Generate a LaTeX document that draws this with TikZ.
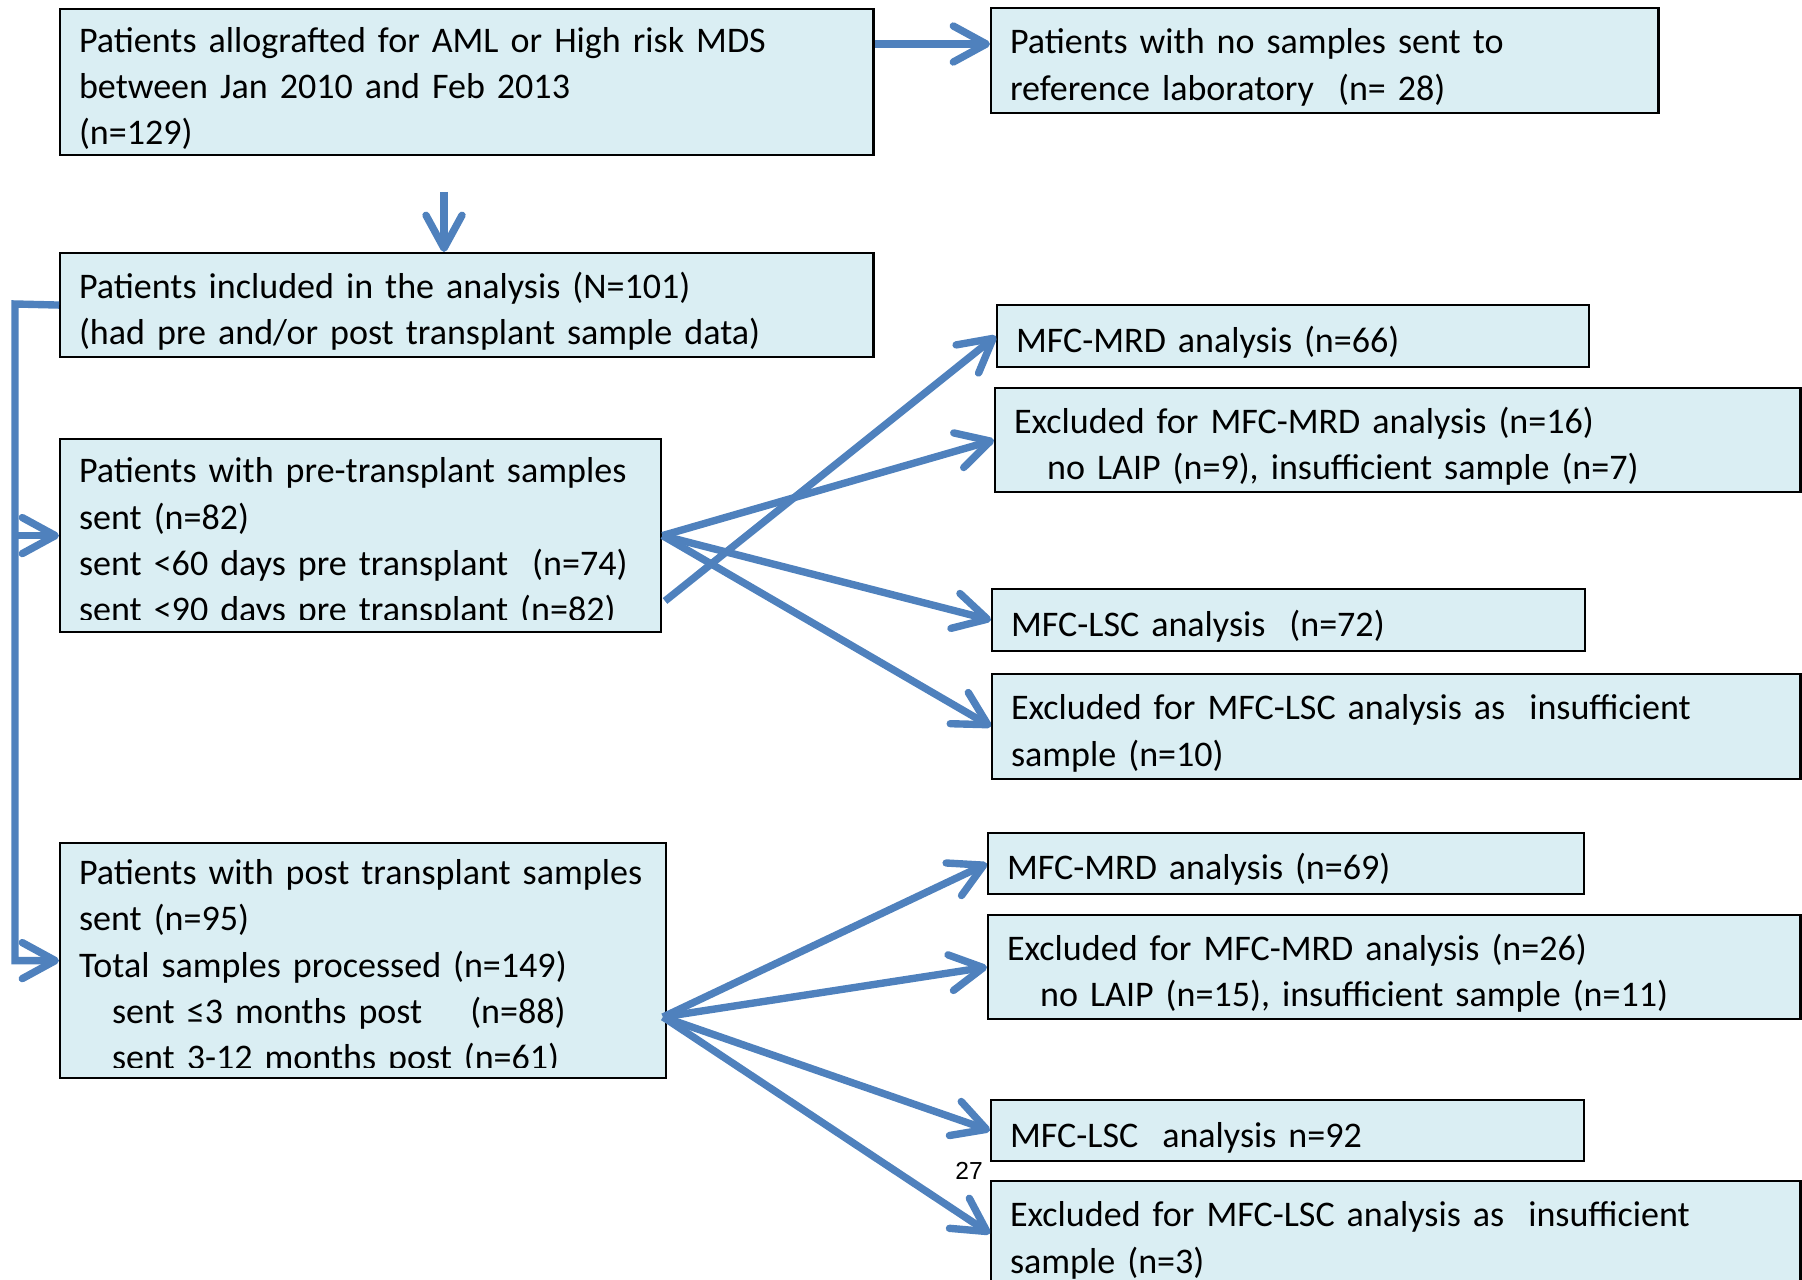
\documentclass[tikz,border=0pt]{standalone}
\usepackage{fontspec}
\setmainfont{Carlito}
\newfontfamily\numfont{Liberation Sans}
\usetikzlibrary{arrows.meta}
\definecolor{boxblue}{HTML}{DAEEF3}
\definecolor{arrowblue}{HTML}{4F81BD}
\newcommand{\bfnt}{\fontsize{10.25pt}{13.1pt}\selectfont}
\newcommand{\ind}{\hspace*{0.33cm}}

\begin{document}
\begin{tikzpicture}[x=0.01cm,y=-0.01cm]
  \tikzstyle{box}=[draw=black,line width=0.6pt,fill=boxblue,anchor=north west,align=left,inner xsep=0.19cm,inner ysep=0pt,font=\bfnt,execute at begin node={\rule{0pt}{11pt}}]
  \tikzstyle{flow}=[draw=arrowblue,line width=2.1pt,-{Straight Barb[length=0.33cm,width=0.36cm,round]}]
  \useasboundingbox (0,0) rectangle (1802,1280);

  \node[box,text width=7.75cm,minimum height=1.46cm] (alloc)  at (59,8)     {Patients allografted for AML or High risk MDS\\between Jan 2010 and Feb 2013\\(n=129)};
  \node[box,text width=6.29cm,minimum height=1.05cm] (norep)  at (990,7)    {Patients with no samples sent to\\reference laboratory~ (n= 28)};
  \node[box,text width=7.75cm,minimum height=1.04cm] (incl)   at (59,252)   {Patients included in the analysis (N=101)\\(had pre and/or post transplant sample data)};
  \node[box,text width=5.63cm,minimum height=1.93cm] (pre)    at (59,438)   {Patients with pre-transplant samples\\sent (n=82)\\sent <60 days pre transplant~ (n=74)\\sent <90 days pre transplant (n=82)};
  \node[box,text width=5.68cm,minimum height=2.35cm] (post)   at (59,842)   {Patients with post transplant samples\\sent (n=95)\\Total samples processed (n=149)\\\ind sent ≤3 months post~~~~(n=88)\\\ind sent 3-12 months post (n=61)};

  % last lines are cut at the bottom of the box
  \fill[boxblue] (62,620) rectangle (657,629);
  \fill[boxblue] (62,1068) rectangle (662,1075);

  % pre transplant branch
  \node[box,text width=5.54cm,minimum height=0.62cm] (mrdA)   at (996,304)  {MFC-MRD analysis (n=66)};
  \node[box,text width=7.67cm,minimum height=1.04cm] (exmrdA) at (994,387)  {Excluded for MFC-MRD analysis (n=16)\\\ind no LAIP (n=9), insufficient sample (n=7)};
  \node[box,text width=5.55cm,minimum height=0.62cm] (lscA)   at (991,588)  {MFC-LSC analysis~ (n=72)};
  \node[box,text width=7.70cm,minimum height=1.05cm] (exlscA) at (991,673)  {Excluded for MFC-LSC analysis as~ insufficient\\sample (n=10)};

  % post transplant branch
  \node[box,text width=5.58cm,minimum height=0.61cm] (mrdB)   at (987,832)  {MFC-MRD analysis (n=69)};
  \node[box,text width=7.74cm,minimum height=1.04cm] (exmrdB) at (987,914)  {Excluded for MFC-MRD analysis (n=26)\\\ind no LAIP (n=15), insufficient sample (n=11)};
  \node[box,text width=5.55cm,minimum height=0.61cm] (lscB)   at (990,1099) {MFC-LSC~ analysis n=92};
  \node[box,text width=7.71cm,minimum height=1.05cm] (exlscB) at (990,1180) {Excluded for MFC-LSC analysis as~ insufficient\\sample (n=3)};

  \node[font=\numfont\fontsize{7pt}{8pt}\selectfont] (pg) at (969,1171) {27};

  \coordinate (down)    at (444,192);
  \coordinate (rail)    at (15,304);
  \coordinate (preout)  at (665,601);
  \coordinate (postout) at (663,1017);

  \draw[flow] ([yshift=-0.36cm]alloc.north east) -- ([yshift=-0.36cm]alloc.north east -| norep.west);
  \draw[flow] (down) -- (down |- incl.north);
  \draw[flow] (incl.west) -- (rail) -- (rail |- post.west) -- (post.west);
  \draw[flow] (rail |- pre.west) -- (pre.west);

  \path (pre.east) edge[flow] (exmrdA.west)
                   edge[flow] (lscA.west)
                   edge[flow] (exlscA.west)
        (preout)   edge[flow] (mrdA.west);
  \path (postout)  edge[flow] (mrdB.west)
                   edge[flow] (exmrdB.west)
                   edge[flow] (lscB.west)
                   edge[flow] (exlscB.west);
\end{tikzpicture}
\end{document}
